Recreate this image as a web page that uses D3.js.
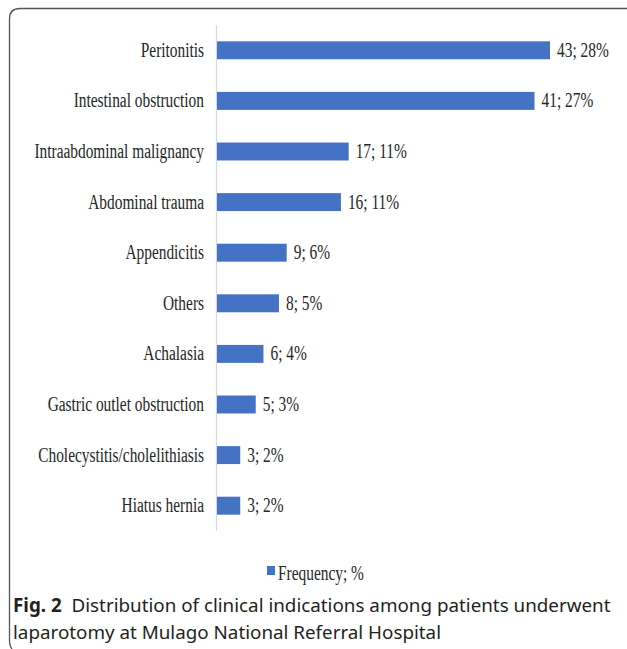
<!DOCTYPE html>
<html>
<head>
<meta charset="utf-8">
<script src="https://cdn.jsdelivr.net/npm/d3@7"></script>
<style>
  html, body { margin: 0; padding: 0; background: #fff; }
  svg { display: block; }
</style>
</head>
<body>
<svg id="chart" width="627" height="649"></svg>
<script>
// Clinical indications for laparotomy (frequency; percent)
const categories = [
  "Peritonitis",
  "Intestinal obstruction",
  "Intraabdominal malignancy",
  "Abdominal trauma",
  "Appendicitis",
  "Others",
  "Achalasia",
  "Gastric outlet obstruction",
  "Cholecystitis/cholelithiasis",
  "Hiatus hernia"
];
const frequencies = [43, 41, 17, 16, 9, 8, 6, 5, 3, 3];
const percents = [28, 27, 11, 11, 6, 5, 4, 3, 2, 2];
const seriesName = "Frequency; %";
const captionBold = "Fig. 2";
const captionLine1 = "Distribution of clinical indications among patients underwent";
const captionLine2 = "laparotomy at Mulago National Referral Hospital";

const data = categories.map((c, i) => ({ cat: c, n: frequencies[i], pct: percents[i] }));

const svg = d3.select("#chart");
const barColor = "#4472C4";
const serif = "'Liberation Serif', 'Times New Roman', serif";
const squeeze = 0.77; // condensed serif labels

// Figure frame (open to the right and bottom)
svg.append("path")
  .attr("d", "M 640 8.5 L 20 8.5 Q 9.5 8.5 9.5 19 L 9.5 640 Q 9.5 646 12 649")
  .attr("fill", "none")
  .attr("stroke", "#555")
  .attr("stroke-width", 1.3);

const x = d3.scaleLinear().domain([0, 43]).range([217, 550]);
const y = d3.scaleBand()
  .domain(categories)
  .range([25, 531])
  .paddingInner(0.645)
  .paddingOuter(0.3225);

// Category axis line
svg.append("line")
  .attr("x1", x(0) - 0.5).attr("x2", x(0) - 0.5)
  .attr("y1", 25).attr("y2", 531)
  .attr("stroke", "#d9d9d9")
  .attr("stroke-width", 1.2);

// Bars
svg.append("g").selectAll("rect")
  .data(data)
  .join("rect")
  .attr("x", x(0))
  .attr("y", d => y(d.cat))
  .attr("width", d => x(d.n) - x(0))
  .attr("height", y.bandwidth())
  .attr("fill", barColor);

// Category labels
svg.append("g").selectAll("text")
  .data(data)
  .join("text")
  .attr("transform", d => `translate(204, ${y(d.cat) + y.bandwidth() / 2 + 6.5}) scale(${squeeze},1)`)
  .attr("text-anchor", "end")
  .attr("font-family", serif)
  .attr("font-size", 20)
  .attr("fill", "#262626")
  .text(d => d.cat);

// Value labels
svg.append("g").selectAll("text")
  .data(data)
  .join("text")
  .attr("transform", d => `translate(${x(d.n) + 7}, ${y(d.cat) + y.bandwidth() / 2 + 6.5}) scale(${squeeze},1)`)
  .attr("font-family", serif)
  .attr("font-size", 20)
  .attr("fill", "#262626")
  .text(d => `${d.n}; ${d.pct}%`);

// Legend
const legend = svg.append("g");
legend.append("rect")
  .attr("x", 267).attr("y", 566)
  .attr("width", 8).attr("height", 9)
  .attr("fill", barColor);
legend.append("text")
  .attr("transform", `translate(278, 580) scale(${squeeze},1)`)
  .attr("font-family", serif)
  .attr("font-size", 20)
  .attr("fill", "#262626")
  .text(seriesName);

// Caption: two lines of slightly condensed sans
const sans = "'Noto Sans', 'Open Sans', sans-serif";
const capSize = 19;
const cap1 = svg.append("text")
  .attr("font-family", sans)
  .attr("font-size", capSize)
  .attr("fill", "#231f20");
cap1.append("tspan").attr("font-weight", "bold").text(captionBold);
cap1.append("tspan").text("\u00a0\u00a0" + captionLine1);

const cap2 = svg.append("text")
  .attr("font-family", sans)
  .attr("font-size", capSize)
  .attr("fill", "#231f20")
  .text(captionLine2);

const k = 598 / cap1.node().getComputedTextLength();
cap1.attr("transform", `translate(13, 612) scale(${k},1)`);
cap2.attr("transform", `translate(13, 639) scale(${k},1)`);
</script>
</body>
</html>
